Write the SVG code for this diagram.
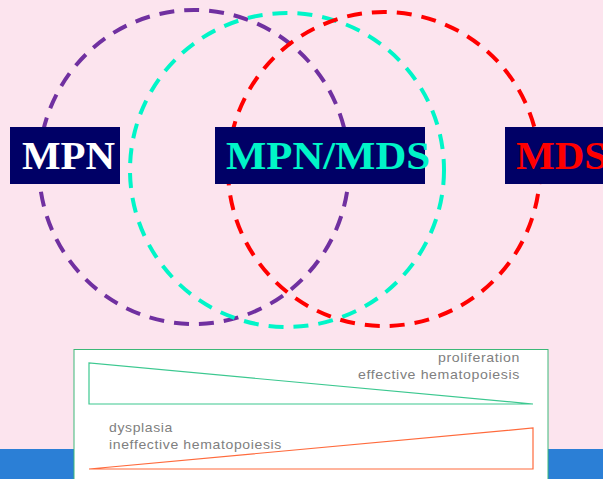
<svg xmlns="http://www.w3.org/2000/svg" width="603" height="479" viewBox="0 0 603 479">
  <style>
    .ring { fill: none; stroke-width: 4; stroke-dasharray: 15 10; }
    .tag { fill: #000066; }
    .tagtext { font-family: "Liberation Serif", "Times New Roman", serif; font-weight: bold; font-size: 41px; }
    .note { font-family: "Liberation Sans", Arial, sans-serif; font-size: 13.5px; fill: #808080; letter-spacing: 0.6px; }
  </style>
  <rect x="0" y="0" width="603" height="479" fill="#fce4ee"/>
  <rect x="0" y="449" width="603" height="30" fill="#2b7fd6"/>

  <g id="rings">
    <ellipse class="ring" cx="194" cy="167" rx="155" ry="157" stroke="#7030a0"/>
    <ellipse class="ring" cx="287" cy="170" rx="157" ry="157" stroke="#00f5c8"/>
    <ellipse class="ring" cx="384" cy="169" rx="156" ry="157" stroke="#ff0000"/>
  </g>

  <g id="mpn">
    <rect class="tag" x="10" y="127" width="110" height="57"/>
    <text class="tagtext" x="22" y="169" fill="#ffffff" textLength="93" lengthAdjust="spacingAndGlyphs">MPN</text>
  </g>
  <g id="mpn-mds">
    <rect class="tag" x="215" y="127" width="210" height="57"/>
    <text class="tagtext" x="226" y="169" fill="#00f5c8" textLength="204" lengthAdjust="spacingAndGlyphs">MPN/MDS</text>
  </g>
  <g id="mds">
    <rect class="tag" x="505" y="127" width="110" height="57"/>
    <text class="tagtext" x="516" y="169" fill="#ff0000">MDS</text>
  </g>

  <g id="gradient-panel">
    <rect x="74" y="349.5" width="474" height="140" fill="#ffffff" stroke="#3cb878" stroke-width="1"/>
    <polygon points="89,363 89,404 533,404" fill="none" stroke="#3cc890" stroke-width="1.2"/>
    <polygon points="89,469 533,428 533,469" fill="none" stroke="#ff6a3c" stroke-width="1.2"/>
    <text class="note" x="520" y="362" text-anchor="end" textLength="82" lengthAdjust="spacingAndGlyphs">proliferation</text>
    <text class="note" x="520" y="379" text-anchor="end" textLength="162" lengthAdjust="spacingAndGlyphs">effective hematopoiesis</text>
    <text class="note" x="109" y="432" textLength="64" lengthAdjust="spacingAndGlyphs">dysplasia</text>
    <text class="note" x="109" y="449" textLength="173" lengthAdjust="spacingAndGlyphs">ineffective hematopoiesis</text>
  </g>
</svg>
